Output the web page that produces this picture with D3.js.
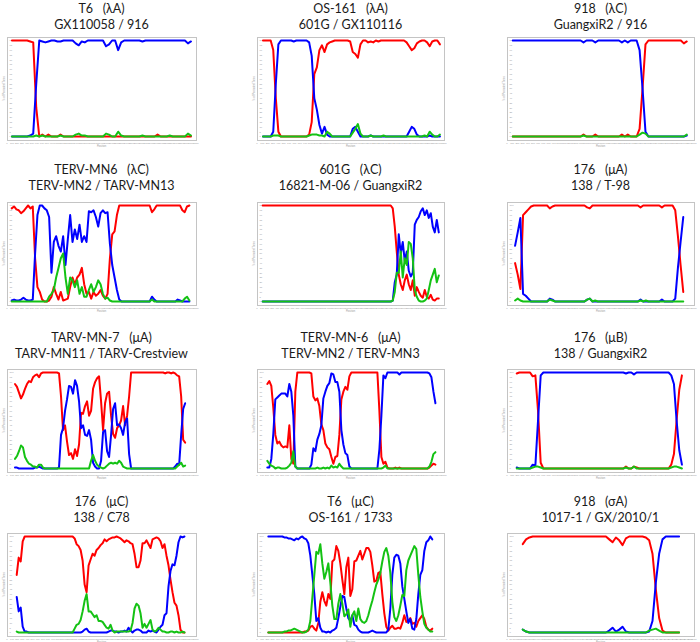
<!DOCTYPE html>
<html><head><meta charset="utf-8">
<script src="https://cdn.jsdelivr.net/npm/d3@7"></script>
<style>body{margin:0;background:#fff}</style>
</head><body>
<svg id="c" width="700" height="642"></svg>
<script>
// ---------- DATA ----------
const titleTop = ["T6   (λA)","OS-161   (λA)","918   (λC)","TERV-MN6   (λC)","601G   (λC)","176   (μA)",
  "TARV-MN-7   (μA)","TERV-MN-6   (μA)","176   (μB)","176   (μC)","T6   (μC)","918   (σA)"];
const titleBottom = ["GX110058 / 916","601G / GX110116","GuangxiR2 / 916","TERV-MN2 / TARV-MN13","16821-M-06 / GuangxiR2","138 / T-98",
  "TARV-MN11 / TARV-Crestview","TERV-MN2 / TERV-MN3","138 / GuangxiR2","138 / C78","OS-161 / 1733","1017-1 / GX/2010/1"];
const axisMax = [3800,3500,3600,3800,3700,3600,3700,3700,3600,3700,3600,2400];
const winStart = [100,112,110,95,112,155,156,204,187,190,218,202];
const winStep = [61,48,56.8,47,39.6,51.4,39.2,39.6,51.3,39.1,38.5,42.7];

const p1Red = [100,100,100,100,100,100,99,98,30,0, 2,0,2,0,0,0,2,0,0,0, 0,0,0,0,0,0,0,0,0,0, 0,0,0,0,0,0,0,0,0,0, 0,0,0,0,0,0,0,0,2,0, 0,0,0,0,0,0,0,0,0,0];
const p1Blue = [0,0,0,0,0,0,1,3,55,100, 99,98,99,100,100,99,99,100,100,100, 100,97,95,99,98,100,100,100,100,100, 100,94,96,100,100,90,98,100,100,100, 100,100,100,99,100,100,100,100,100,100, 100,100,100,100,100,100,100,100,97,99];
const p1Green = [0,0,0,0,0,0,0,0,1,0, 1,0,0,0,0,0,1,0,0,0, 0,2,3,1,1,0,0,0,0,0, 0,3,2,0,0,5,1,0,0,0, 0,0,0,1,0,0,0,0,0,0, 0,0,1,0,0,0,0,0,3,1];

const p2Red = [100,100,100,100,90,40,5,0,0,0, 0,0,0,0,0,0,0,0,2,15, 65,72,90,95,88,96,98,99,100,100, 100,100,100,100,99,88,86,82,96,100, 100,98,99,98,100,99,100,100,100,100, 100,100,100,100,100,100,98,94,90,92, 97,99,100,100,98,94,99,100,100,96];
const p2Blue = [0,0,0,0,5,55,96,100,100,100, 100,100,99,100,100,100,100,100,98,84, 40,28,12,3,10,2,0,0,0,0, 0,0,0,0,0,8,10,5,0,0, 0,0,1,0,0,0,0,0,0,0, 0,0,0,0,0,0,0,5,10,8, 2,0,0,0,0,1,0,0,0,0];
const p2Green = [0,0,0,0,1,1,1,0,0,0, 0,0,0,0,0,0,0,0,1,2, 2,2,1,1,0,5,3,0,0,0, 0,0,0,0,0,4,8,13,3,0, 0,0,1,0,0,0,0,1,0,0, 0,0,0,0,0,0,0,0,0,0, 0,0,0,1,0,5,2,0,0,2];

const p3Red = [0,0,0,0,0,0,0,0,0,0, 0,0,0,0,0,0,0,0,0,0, 0,0,0,0,2,0,0,0,2,0, 0,0,0,0,0,0,0,2,0,2, 0,0,0,8,50,96,100,100,100,100, 100,100,100,100,100,100,100,100,97,99];
const p3Blue = [100,100,100,100,100,100,100,100,100,100, 100,100,100,100,100,100,100,100,100,100, 100,100,100,100,98,100,100,100,98,100, 100,100,100,100,100,100,100,98,100,98, 100,100,100,90,50,5,0,0,0,0, 0,0,0,0,0,0,0,0,0,1];
const p3Green = [0,0,0,0,0,0,0,0,0,0, 0,0,0,0,0,0,0,0,0,0, 0,0,0,0,1,0,0,0,0,0, 0,0,0,0,0,0,0,0,0,0, 0,0,0,2,4,3,0,0,0,0, 0,0,0,0,0,0,0,0,0,2];

const p4Red = [97,99,96,95,92,94,97,100,97,99, 45,15,10,2,0,0,1,5,15,8, 2,10,1,2,3,15,25,18,25,28, 35,18,8,10,3,10,6,8,12,6, 3,8,45,70,73,90,100, 100,100,100,100,100,100,100,100,100,100,100,100,100, 93,96, 100,100,100,100,100,100,100,100,100,100,100, 95,93,99,100];
const p4Blue = [1,2,1,1,2,4,2,1,1,2, 50,90,100,100,97,95,88,30,62,68, 58,52,68,38,65,90,62,75,65,80, 62,68,62,94,93,95,88,78,92,95, 92,93,60,38,25,12,2, 0,0,0,0,0,0,0,0,0,0,0,0,0, 5,2, 0,0,0,0,0,0,0,0,0, 2,1, 0,0,0,0];
const p4Green = [0,0,0,0,0,0,0,0,0,0,0,0,0,0,0,0, 5,8,12,25,35,45,50,25,8,25,22,15,22,8, 15,5,5,12,18,10,15,22,18,8,3,4,1, 0,0,0,0,0,0,0,0,0,0,0,0,0,0,0,0,0, 2, 0,0,0,0,0,0,0,0,0,0,0,0,0, 3,5,1];

const p5Red = [100,100,100,100,100,100,100,100,100,100, 100,100,100,100,100,100,100,100,100,100, 100,100,100,100,100,100,100,100,100,100, 100,100,100,100,100,100,100,100,100,100, 100,100,100,100,100,100,100,100,100,100, 100,100,100,100,100,100,100,100,100,100, 100,100,100,100,100,
  97,78,52,28,18,12,22,28,18,12,22,6,15,10,6,4,12,5,3,7,2,1,3,3];
const p5Blue = [0,0,0,0,0,0,0,0,0,0, 0,0,0,0,0,0,0,0,0,0, 0,0,0,0,0,0,0,0,0,0, 0,0,0,0,0,0,0,0,0,0, 0,0,0,0,0,0,0,0,0,0, 0,0,0,0,0,0,0,0,0,0, 0,0,0,0,0,
  1,20,28,70,50,62,42,52,32,26,30,80,85,88,94,97,90,95,87,92,78,72,85,72];
const p5Green = [0,0,0,0,0,0,0,0,0,0, 0,0,0,0,0,0,0,0,0,0, 0,0,0,0,0,0,0,0,0,0, 0,0,0,0,0,0,0,0,0,0, 0,0,0,0,0,0,0,0,0,0, 0,0,0,0,0,0,0,0,0,0, 0,0,0,0,0,
  1,10,30,30,52,25,45,38,62,60,45,12,5,1,0,0,1,3,12,22,28,34,20,27];

const p6Red = [40,28,13,90,93,96,99, 100,100,100,100,100,100, 97,99, 100,100,100,100,100,100,100,100,100,100,100,100, 98,97, 100,100,100,100,100,100,100,100,100,100,100,100,100,100,100,100,100,100, 98, 100,100,100,100,100,100,100, 98, 100,100,100,100, 95,68,38,10];
const p6Blue = [58,72,87,8,6,3, 0,0,0,0,0,0,0, 3,2, 0,0,0,0,0,0,0,0,0,0,0,0, 2,3, 0,0,0,0,0,0,0,0,0,0,0,0,0,0,0,0,0,0, 2, 0,0,0,0,0,0,0, 2, 0,0,0,0, 3,35,62,88];
const p6Green = [1,3,1, 0,0,0,0,0,0,0,0,0,0, 2,1, 0,0,0,0,0,0,0,0,0,0,0,0, 2,3,0,1, 0,0,0,0,0,0,0,0,0,0,0,0,0,0,0,0, 1,0,1, 0,0,0,0,0,0,0,0,0,0,0,0,0,0];

const p7Red = [88,85,79,73,77,83,88,91,90,95, 97,98,95,99,100,100,100,100,100,100, 100,100,99,75,40,45,28,14,16,10, 20,13,25,58,57,65,70,55,60,83, 90,94,96,70,40,68,78,80,55,36, 32,42,45,50,65,45,55,75,
  100,100,100,100,100,100,100,100,100,100,100,100,100,100,100,100,100,99,100,100,99,100, 99,97,96,75,30,27];
const p7Blue = [1,1,0,0,0,0,0,0,0,0, 1,1,2,1,0,0,0,0,0,0, 0,0,1,35,42,60,72,86,85,78, 92,86,70,42,45,35,34,40,30,6, 2,0,0,8,38,40,18,12,35,62, 68,45,46,42,35,48,52,15,
  0,0,0,0,0,0,0,0,0,0,0,0,0,0,0,0,0,0,0,0,0,0, 2,5,4,35,62,68];
const p7Green = [10,13,18,24,22,12,8,5,4,2, 2,1,4,4,1,0,0,0,0,0, 0,0,0,0,0,0,0,0,0,0, 0,0,0,0,0,0,0,0,8,14, 8,4,2,1,0,1,3,5,6,5, 6,5,8,6,2,1,0,0,
  0,0,0,0,0,0,0,0,0,0,0,0,0,0,0,0,0,0,0,0,0,0, 0,2,4,6,2,3];

const p8Red = [88,91,86,63,35,26,28,24,22,23, 22,45,10,5,80,100,100,100,100,100, 100,100,99,75,71,73,65,46,40,26, 22,20,12,5,12,13,35,72,80,85, 82,96,100,100,100,100,100,100,100,100, 100,100,100,100,100,100,60,12,5,7, 1,0,0,0,1,0,1,0,0,0, 0,0,0,0,0,0,0,0,0,0, 0,1,3,5,4];
const p8Blue = [1,1,10,36,72,74,76,78,78,78, 75,88,80,55,2,0,0,0,0,0, 0,0,4,21,18,30,36,45,73,80, 86,89,99,98,90,90,80,40,25,16, 14,2,0,0,0,0,0,0,0,0, 0,0,0,0,0,0,20,55,97,94, 100,100,100,100,100,100,98,100,100,100, 100,100,100,100,100,100,100,100,100,100, 100,99,95,80,68];
const p8Green = [8,5,3,2,0,1,1,0,0,0, 1,3,6,18,2,0,0,0,0,0, 0,0,0,0,0,1,0,0,1,0, 1,0,3,1,2,1,5,2,0,0, 0,0,0,0,0,0,0,0,0,0, 0,0,0,0,0,0,0,0,1,3, 0,0,0,0,0,0,0,0,0,0, 0,0,0,0,0,0,0,0,0,0, 0,2,7,15,17];

const p9Red = [99,100,100,100,100,100,96,97,60,6, 0,0,0,0,0,0,0,0,0,0,0,0,0,0,0,0,0,0,0,0,0,0,0,0,0,0,0,0,0,0,0, 2,0,0,2,1, 0,0,0,0,0,0,0,0,0,0,0,0, 4,15,50,82,97];
const p9Blue = [1,0,0,0,0,0,4,3,50,97, 100,100,100,100,100,100,100,100,100,100,100,100,100,100,100,100,100,100,100,100,100,100,100,100,100,100,100,100,100,100,100, 99,100,100,98,100, 100,100,100,100,100,100,100,100,100,100,100,100, 97,88,50,19,4];
const p9Green = [0,0,0,0,0,0,1,2,2,1, 0,0,0,0,0,0,0,0,0,0,0,0,0,0,0,0,0,0,0,0,0,0,0,0,0,0,0,0,0,0,0, 1,0,0,2,0, 0,0,0,0,0,0,0,0,0,0,0,0, 1,2,2,1,0];

const p10Red = [60,78,74,95,100,100,100,100,100,100, 100,100,100,100,100,100,100,100,100,100, 100,100,100,100,100,100,100,100,100, 98,92,90,86,75,50,42, 70,76,82,80,86,88,91,93,97,95, 97,98,99,99,100,99,98,96,94,96, 95,93,92,82,68,68,75,93,93,96, 92,88,97,98,99,98,95,88,92,80, 70,55,42,31,28,18,3,0,0];
const p10Blue = [37,22,26,6,1,1,0,0,0,0, 0,0,0,0,0,0,0,0,0,0, 0,0,0,0,0,0,0,0,0, 0,0,0,0,1,3,4, 1,0,0,0,0,0,0,0,0,0, 1,2,2,1,1,0,1,1,2,1, 5,2,0,2,3,3,2,0,0,0, 2,1,2,1,0,3,6,8,18,20, 48,64,71,70,80,94,100,99,100];
const p10Green = [1,0,0,0,0,0,0,0,0,0, 0,0,0,0,0,0,0,0,0,0, 0,0,0,0,0,0,0,0,0, 4,8,9,13,22,33,40, 22,22,19,16,18,12,12,11,8,5, 4,8,2,0,1,1,1,1,1,1, 1,2,10,25,30,28,20,5,9,5, 9,13,3,1,2,5,3,1,1,0, 0,1,1,0,1,0,0,1,0];

const p11Red = [0,0,0,0,0,0,0,0,0,0, 0,0,0,0,0,0,0,0,1,1, 2,6,7,4,2,10,32,42,33,28, 40,35,74,76,90,85,72,55,40,68, 78,38,45,74,75,80,85,76,82,88, 88,84,70,53,54,62,63,40,20,6, 2,5,7,4,4,5,4,10,18,11, 12,15,9,10,6,12,15,18,14,6, 3,2,4];
const p11Blue = [100,100,100,100,100,100,100,100,99,99, 98,98,97,96,98,97,99,100,98,97, 93,80,60,40,12,15,5,1,1,0, 1,0,2,3,5,15,27,38,37,25, 15,12,18,8,7,3,1,0,0,0, 0,1,2,1,0,0,0,0,0,0, 3,25,60,78,81,80,72,48,35,22, 10,14,4,3,14,40,60,65,85,94, 96,100,97];
const p11Green = [0,0,0,0,0,0,0,0,1,1, 2,2,3,4,3,2,1,0,0,1, 3,12,36,60,84,82,92,72,56,63, 72,52,28,14,14,30,40,30,17,19, 24,6,18,22,12,25,14,11,10,12, 18,26,33,42,50,55,62,74,84,88, 80,62,32,16,12,18,28,39,38,65, 75,80,85,90,87,60,37,22,9,5, 3,1,1];

const p12Red = [92,97,99, 100,100,100,100,100,100,100,100,100,100,100,100,100,100,100,100,100,100,100,100,100,100,100, 97,94,99,96,91,98, 100,100,100,100,100,99, 96,82,45,15,2, 0,0,0,0,0];
const p12Blue = [3,1,0, 0,0,0,0,0,0,0,0,0,0,0,0,0,0,0,0,0,0,0,0,0,0,0, 2,5,1,3,6,1, 0,0,0,0,0,0, 1,12,52,82,97, 100,100,100,100,100];
const p12Green = [3,1,0, 0,0,0,0,0,0,0,0,0,0,0,0,0,0,0,0,0,0,0,0,0,0,0,0,0,0,0,0,0,0,0,0,0,0,0, 2,3,4,2,0, 0,0,0,0,0];

const redSeries = [p1Red,p2Red,p3Red,p4Red,p5Red,p6Red,p7Red,p8Red,p9Red,p10Red,p11Red,p12Red];
const blueSeries = [p1Blue,p2Blue,p3Blue,p4Blue,p5Blue,p6Blue,p7Blue,p8Blue,p9Blue,p10Blue,p11Blue,p12Blue];
const greenSeries = [p1Green,p2Green,p3Green,p4Green,p5Green,p6Green,p7Green,p8Green,p9Green,p10Green,p11Green,p12Green];
const yTickValues = [0,5,10,15,20,25,30,35,40,45,50,55,60,65,70,75,80,85,90,95,100];

// ---------- LAYOUT ----------
const colLeft = [7, 257, 507], colW = [189, 187, 187];
const rowTop = [37, 202, 369, 533], boxH = 103;
const titleBase = [[12.5, 28.5], [173.5, 189.5], [341.5, 357.5], [506, 522]];
const colors = {red: "#ff0000", blue: "#0000ff", green: "#14c214"};

const svg = d3.select("#c");

for (let i = 0; i < 12; i++) {
  const r = Math.floor(i / 3), c = i % 3;
  const bx = colLeft[c], bw = colW[c], by = rowTop[r], bh = boxH;
  const g = svg.append("g");
  const cx = bx + bw / 2;

  g.append("text").attr("x", cx).attr("y", titleBase[r][0]).attr("text-anchor", "middle")
    .style("white-space", "pre").attr("font-family", "Lato, 'Open Sans', sans-serif").attr("font-size", 12.5)
    .attr("fill", "#1a1a1a").text(titleTop[i]);
  g.append("text").attr("x", cx).attr("y", titleBase[r][1]).attr("text-anchor", "middle")
    .style("white-space", "pre").attr("font-family", "Lato, 'Open Sans', sans-serif").attr("font-size", 12.5)
    .attr("fill", "#1a1a1a").text(titleBottom[i]);

  g.append("rect").attr("x", bx + 0.5).attr("y", by + 0.5).attr("width", bw).attr("height", bh)
    .attr("fill", "#fff").attr("stroke", "#c4c4c4").attr("stroke-width", 1);

  const x = d3.scaleLinear().domain([0, axisMax[i]]).range([bx, bx + bw]);
  const y = d3.scaleLinear().domain([0, 100]).range([by + bh - 3.5, by + 3.5]);

  // tiny y tick labels
  g.append("g").selectAll("text").data(yTickValues).join("text")
    .attr("x", bx + 2.5).attr("y", d => y(d) + 0.8).attr("font-size", 2.4)
    .attr("font-family", "Liberation Sans, sans-serif").attr("fill", "#999").text(d => d);
  // tiny x tick labels
  g.append("g").selectAll("text").data(x.ticks(40)).join("text")
    .attr("x", d => x(d)).attr("y", by + bh + 3.6).attr("text-anchor", "middle").attr("font-size", 2.4)
    .attr("font-family", "Liberation Sans, sans-serif").attr("fill", "#999").text(d => d);
  g.append("text").attr("x", cx).attr("y", by + bh + 6.5).attr("text-anchor", "middle")
    .attr("font-size", 2.6).attr("font-family", "Liberation Sans, sans-serif").attr("fill", "#999").text("Position");
  g.append("text").attr("transform", `translate(${bx - 2},${by + bh / 2}) rotate(-90)`).attr("text-anchor", "middle")
    .attr("font-size", 2.6).attr("font-family", "Liberation Sans, sans-serif").attr("fill", "#999").text("% of Permuted Trees");

  const line = d3.line().x((d, j) => x(winStart[i] + j * winStep[i])).y(d => y(d));
  [[redSeries[i], colors.red], [blueSeries[i], colors.blue], [greenSeries[i], colors.green]].forEach(([s, col]) => {
    g.append("path").datum(s).attr("d", line).attr("fill", "none").attr("stroke", col)
      .attr("stroke-width", 2).attr("stroke-linejoin", "round").attr("stroke-linecap", "round");
  });
}
</script>
</body></html>
